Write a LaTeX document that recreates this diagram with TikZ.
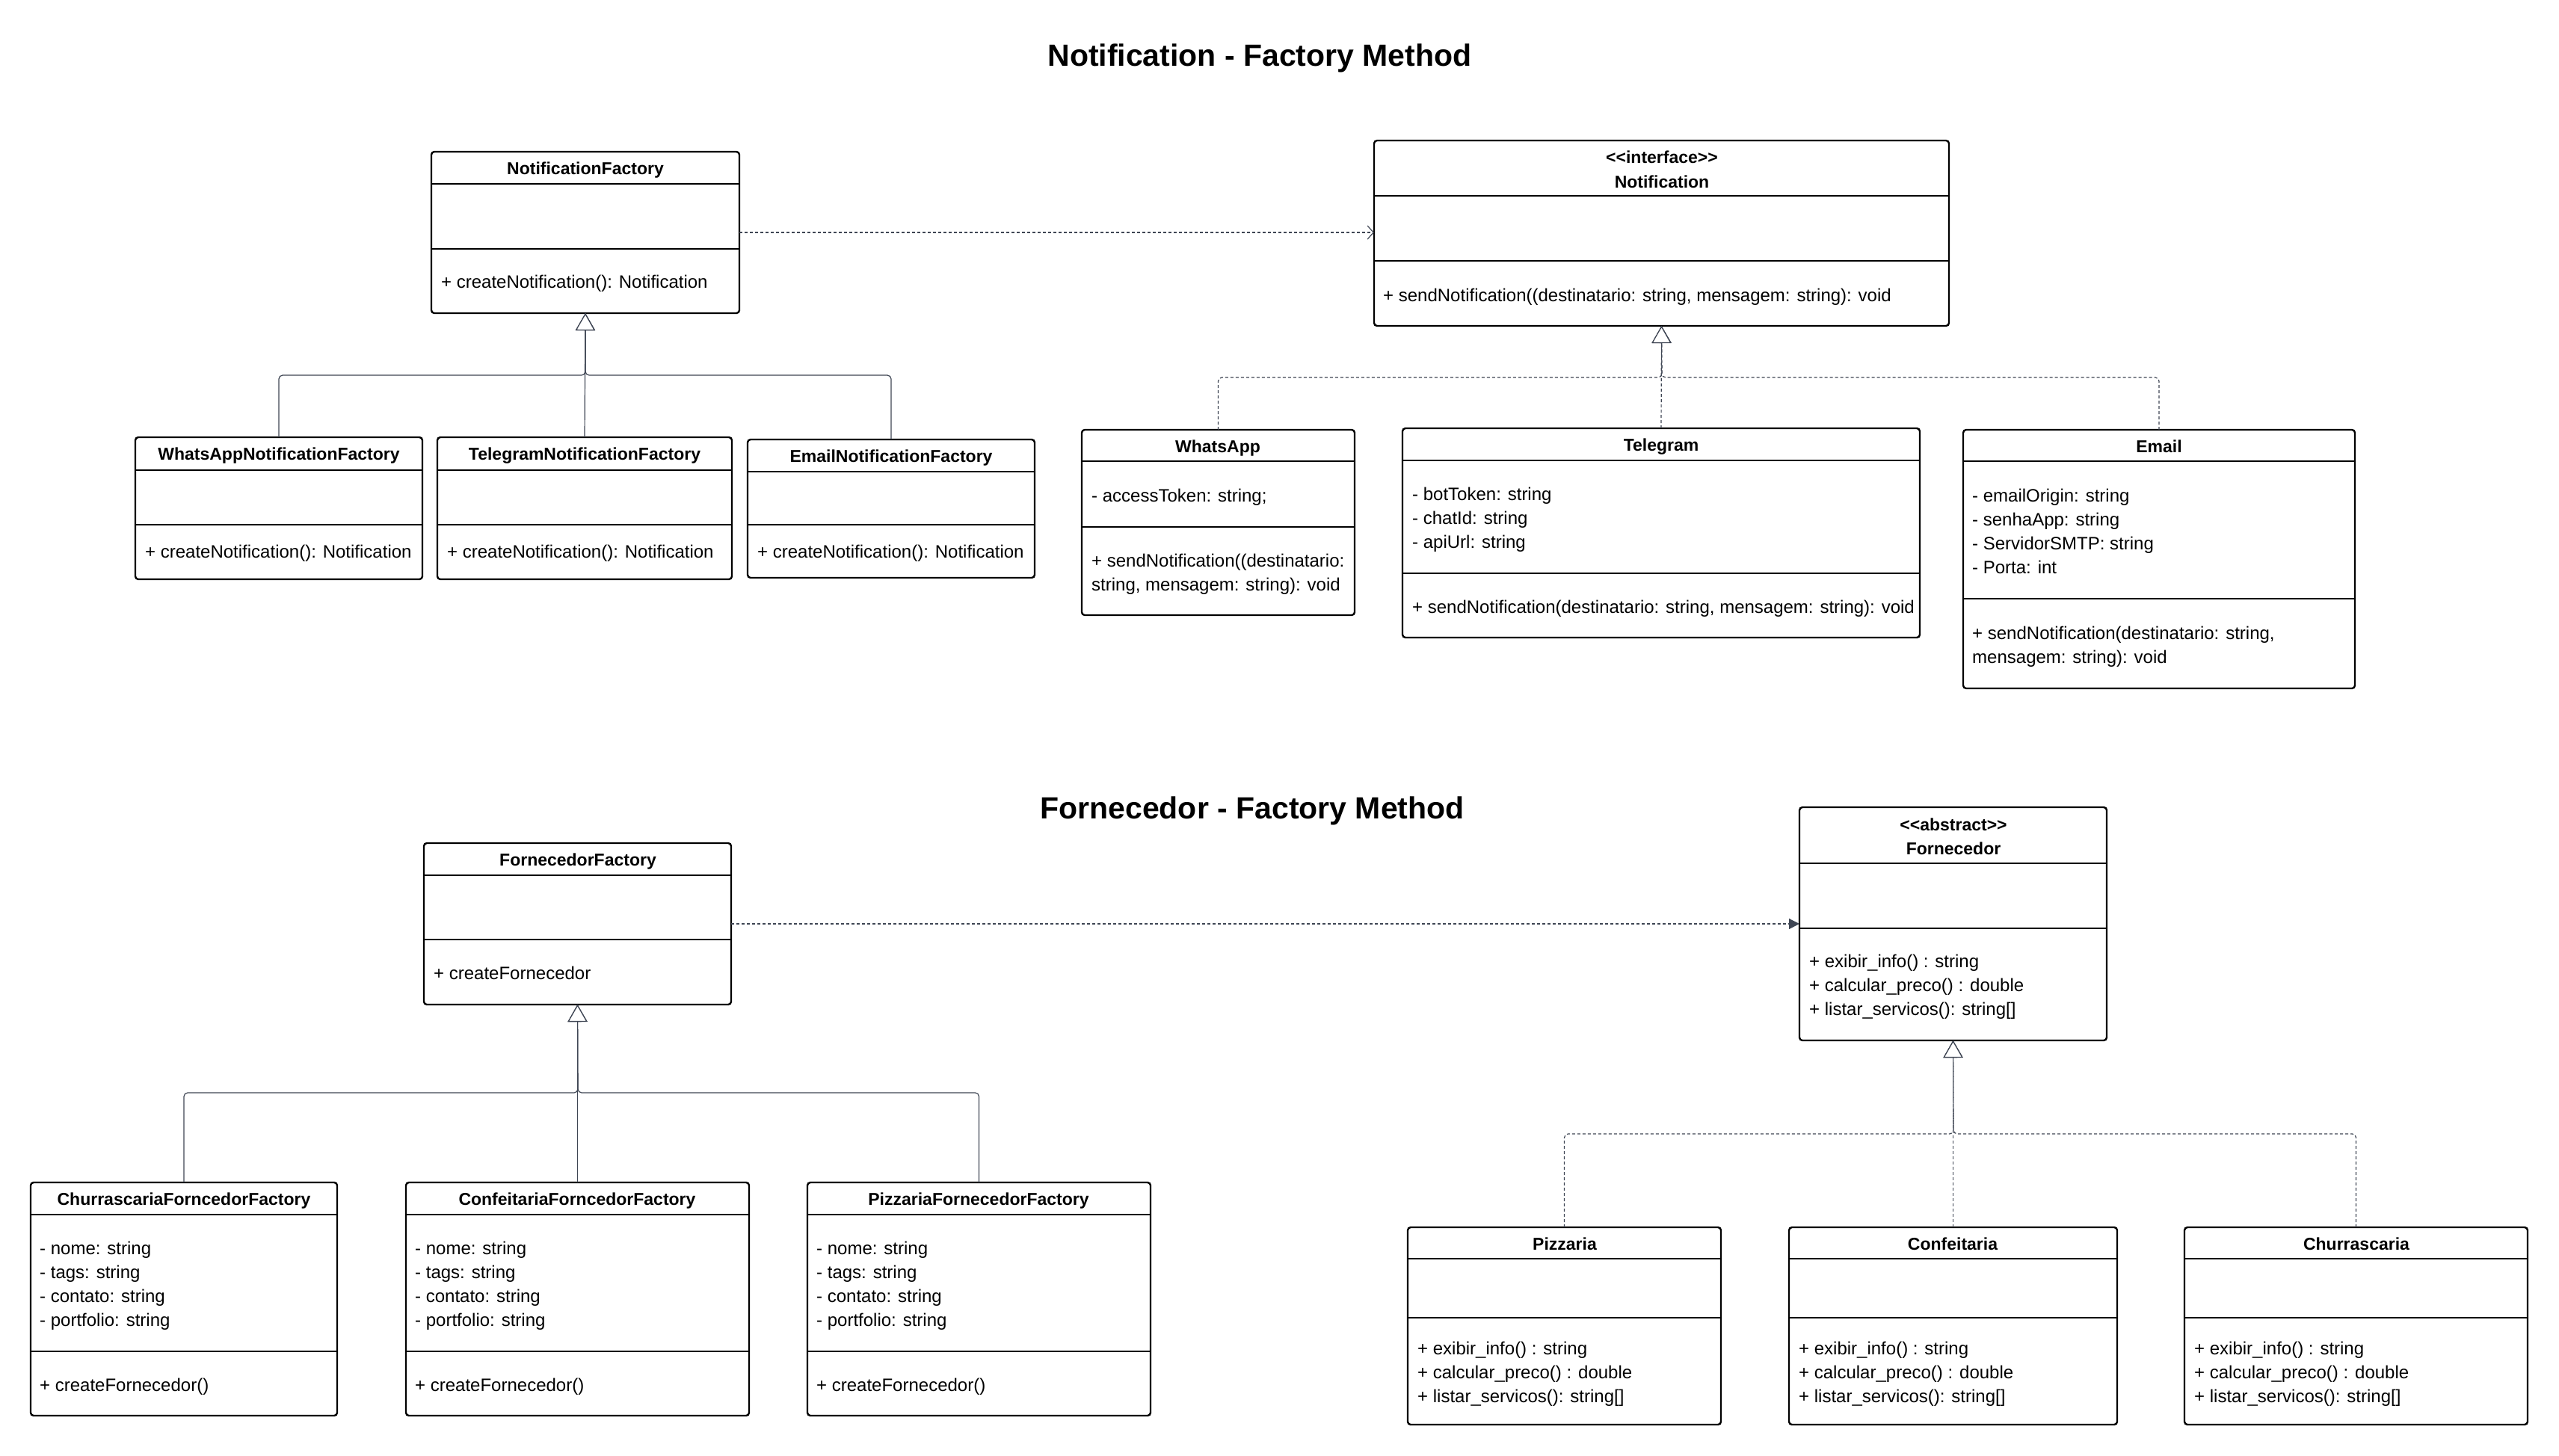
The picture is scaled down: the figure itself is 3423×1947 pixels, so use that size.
\documentclass[tikz,border=0pt]{standalone}
\usepackage{fontspec}
\setmainfont{Liberation Sans}[Ligatures=TeXOff]
\usetikzlibrary{arrows.meta}
\definecolor{conn}{HTML}{3F4654}
\tikzset{
  umlclass/.style={draw=black, line width=2.4pt, rounded corners=4pt, fill=white,
                   inner sep=0pt, outer sep=0pt, anchor=north west},
  divider/.style={draw=black, line width=2.4pt},
  hdr/.style={font=\fontsize{23}{28}\selectfont\bfseries, inner sep=0pt, anchor=base},
  mem/.style={font=\fontsize{24}{29}\selectfont, inner sep=0pt, anchor=base west},
  ttl/.style={font=\fontsize{41}{49}\selectfont\bfseries, inner sep=0pt, anchor=base},
  inh/.style={draw=conn, line width=1.2pt, rounded corners=5pt},
  real/.style={inh, dash pattern=on 4pt off 3pt},
  hollow/.style={-{Triangle[open, fill=white, length=23pt, width=26pt]}},
  dep/.style={draw=conn, line width=1.2pt, dash pattern=on 4pt off 3pt},
}
% name, x1, y1, x2, y2, divider1, divider2
\newcommand\umlbox[7]{%
  \node[umlclass, minimum width={(#4-#2)*1pt}, minimum height={(#5-#3)*1pt}] (#1) at (#2,#3) {};
  \draw[divider] (#2,#6) -- (#4,#6);
  \draw[divider] (#2,#7) -- (#4,#7);
}
\begin{document}
\begin{tikzpicture}[x=1pt, y=-1pt]
\fill[white] (0,0) rectangle (3423,1947);
\useasboundingbox (0,0) rectangle (3423,1947);

% ---------------- Titles ----------------
\node[ttl] (title1) at (1685,88) {Notification - Factory Method};
\node[ttl] (title2) at (1675,1095) {Fornecedor - Factory Method};

% ---------------- Notification part ----------------
\umlbox{nf}{577}{203}{989}{419}{246}{333}
\node[hdr] (nfh) at (783,233) {NotificationFactory};
\node[mem] (nfm) at (590,385) {+ createNotification(): Notification};

\umlbox{waf}{181}{585}{565}{775}{629}{702}
\node[hdr] (wafh) at (373,615) {WhatsAppNotificationFactory};
\node[mem] (wafm) at (194,746) {+ createNotification(): Notification};

\umlbox{tgf}{585}{585}{979}{775}{629}{702}
\node[hdr] (tgfh) at (782,615) {TelegramNotificationFactory};
\node[mem] (tgfm) at (598,746) {+ createNotification(): Notification};

\umlbox{emf}{1000}{588}{1384}{773}{631}{702}
\node[hdr] (emfh) at (1192,618) {EmailNotificationFactory};
\node[mem] (emfm) at (1013,746) {+ createNotification(): Notification};

\umlbox{notif}{1838}{188}{2607}{436}{262}{349}
\node[hdr] (notifs) at (2223,218) {<<interface>>};
\node[hdr] (notifh) at (2223,251) {Notification};
\node[mem] (notifm) at (1850,403) {+ sendNotification((destinatario: string, mensagem: string): void};

\umlbox{wa}{1447}{575}{1812}{823}{617}{705}
\node[hdr] (wah) at (1629,605) {WhatsApp};
\node[mem] (waa) at (1460,671) {- accessToken: string;};
\node[mem] (wam1) at (1460,758) {+ sendNotification((destinatario:};
\node[mem] (wam2) at (1460,790) {string, mensagem: string): void};

\umlbox{tg}{1876}{573}{2568}{853}{616}{767}
\node[hdr] (tgh) at (2222,603) {Telegram};
\node[mem] (tga1) at (1889,669) {- botToken: string};
\node[mem] (tga2) at (1889,701) {- chatId: string};
\node[mem] (tga3) at (1889,733) {- apiUrl: string};
\node[mem] (tgm) at (1889,820) {+ sendNotification(destinatario: string, mensagem: string): void};

\umlbox{em}{2626}{575}{3150}{921}{617}{801}
\node[hdr] (emh) at (2888,605) {Email};
\node[mem] (ema1) at (2638,671) {- emailOrigin: string};
\node[mem] (ema2) at (2638,703) {- senhaApp: string};
\node[mem] (ema3) at (2638,735) {- ServidorSMTP: string};
\node[mem] (ema4) at (2638,767) {- Porta: int};
\node[mem] (emm1) at (2638,855) {+ sendNotification(destinatario: string,};
\node[mem] (emm2) at (2638,887) {mensagem: string): void};

% connectors (notification)
\draw[dep, -{Straight Barb[length=8pt, width=18pt]}] (nf.east) -- (nf.east -| notif.west);
\coordinate (nfj) at (783,502);
\draw[inh, hollow] (waf.north) |- (nfj) -- (nf.south);
\draw[inh, hollow] (emf.north) |- (nfj) -- (nf.south);
\draw[inh, hollow] (tgf.north) -- (nf.south);
\coordinate (nj) at (2223,505);
\draw[real, hollow] (wa.north) |- (nj) -- (notif.south);
\draw[real, hollow] (em.north) |- (nj) -- (notif.south);
\draw[real, hollow] (tg.north) -- (notif.south);

% ---------------- Fornecedor part ----------------
\umlbox{ff}{567}{1128}{978}{1344}{1171}{1257}
\node[hdr] (ffh) at (773,1158) {FornecedorFactory};
\node[mem] (ffm) at (580,1310) {+ createFornecedor};

\umlbox{forn}{2407}{1080}{2818}{1392}{1155}{1242}
\node[hdr] (forns) at (2613,1111) {<<abstract>>};
\node[hdr] (fornh) at (2613,1143) {Fornecedor};
\node[mem] (fornm1) at (2420,1294) {+ exibir\_info() : string};
\node[mem] (fornm2) at (2420,1326) {+ calcular\_preco() : double};
\node[mem] (fornm3) at (2420,1358) {+ listar\_servicos(): string[]};

\umlbox{cff}{41}{1582}{451}{1894}{1625}{1808}
\node[hdr] (cffh) at (246,1612) {ChurrascariaForncedorFactory};
\node[mem] (cffa1) at (53,1678) {- nome: string};
\node[mem] (cffa2) at (53,1710) {- tags: string};
\node[mem] (cffa3) at (53,1742) {- contato: string};
\node[mem] (cffa4) at (53,1774) {- portfolio: string};
\node[mem] (cffm) at (53,1861) {+ createFornecedor()};

\umlbox{cof}{543}{1582}{1002}{1894}{1625}{1808}
\node[hdr] (cofh) at (772,1612) {ConfeitariaForncedorFactory};
\node[mem] (cofa1) at (555,1678) {- nome: string};
\node[mem] (cofa2) at (555,1710) {- tags: string};
\node[mem] (cofa3) at (555,1742) {- contato: string};
\node[mem] (cofa4) at (555,1774) {- portfolio: string};
\node[mem] (cofm) at (555,1861) {+ createFornecedor()};

\umlbox{pff}{1080}{1582}{1539}{1894}{1625}{1808}
\node[hdr] (pffh) at (1309,1612) {PizzariaFornecedorFactory};
\node[mem] (pffa1) at (1092,1678) {- nome: string};
\node[mem] (pffa2) at (1092,1710) {- tags: string};
\node[mem] (pffa3) at (1092,1742) {- contato: string};
\node[mem] (pffa4) at (1092,1774) {- portfolio: string};
\node[mem] (pffm) at (1092,1861) {+ createFornecedor()};

\umlbox{pz}{1883}{1642}{2302}{1906}{1684}{1763}
\node[hdr] (pzh) at (2093,1672) {Pizzaria};
\node[mem] (pzm1) at (1896,1812) {+ exibir\_info() : string};
\node[mem] (pzm2) at (1896,1844) {+ calcular\_preco() : double};
\node[mem] (pzm3) at (1896,1876) {+ listar\_servicos(): string[]};

\umlbox{cf}{2393}{1642}{2832}{1906}{1684}{1763}
\node[hdr] (cfh) at (2612,1672) {Confeitaria};
\node[mem] (cfm1) at (2406,1812) {+ exibir\_info() : string};
\node[mem] (cfm2) at (2406,1844) {+ calcular\_preco() : double};
\node[mem] (cfm3) at (2406,1876) {+ listar\_servicos(): string[]};

\umlbox{ch}{2922}{1642}{3381}{1906}{1684}{1763}
\node[hdr] (chh) at (3152,1672) {Churrascaria};
\node[mem] (chm1) at (2935,1812) {+ exibir\_info() : string};
\node[mem] (chm2) at (2935,1844) {+ calcular\_preco() : double};
\node[mem] (chm3) at (2935,1876) {+ listar\_servicos(): string[]};

% connectors (fornecedor)
\draw[dep, -{Triangle[length=14pt, width=14pt]}] (ff.east) -- (ff.east -| forn.west);
\coordinate (ffj) at (773,1462);
\draw[inh, hollow] (cff.north) |- (ffj) -- (ff.south);
\draw[inh, hollow] (pff.north) |- (ffj) -- (ff.south);
\draw[inh, hollow] (cof.north) -- (cof.north |- ff.south);
\coordinate (fj) at (2613,1517);
\draw[real, hollow] (pz.north) |- (fj) -- (forn.south);
\draw[real, hollow] (ch.north) |- (fj) -- (forn.south);
\draw[real, hollow] (cf.north) -- (cf.north |- forn.south);
\end{tikzpicture}
\end{document}
